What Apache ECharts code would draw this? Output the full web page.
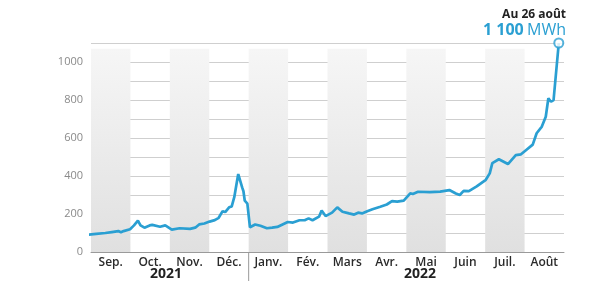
<!DOCTYPE html>
<html><head><meta charset="utf-8">
<script src="https://cdn.jsdelivr.net/npm/echarts@6/dist/echarts.min.js"></script>
<style>html,body{margin:0;padding:0;background:#fff}#c{width:600px;height:288px}</style>
</head><body><div id="c"></div>
<script>
var months = ['Sep.','Oct.','Nov.','Déc.','Janv.','Fév.','Mars','Avr.','Mai','Juin','Juil.','Août'];
var shaded = [1,0,1,0,1,0,1,0,1,0,1,0];
var years = ['2021','2022'];
var yTicks = [0,200,400,600,800,1000];
var dates = ['2021-08-29','2021-09-05','2021-09-12','2021-09-17','2021-09-22','2021-09-24','2021-09-26','2021-10-01','2021-10-04','2021-10-07','2021-10-09','2021-10-12','2021-10-16','2021-10-18','2021-10-24','2021-10-28','2021-11-02','2021-11-08','2021-11-16','2021-11-20','2021-11-23','2021-11-27','2021-12-01','2021-12-05','2021-12-08','2021-12-11','2021-12-13','2021-12-16','2021-12-18','2021-12-20','2021-12-21','2021-12-23','2021-12-24','2021-12-26','2021-12-27','2021-12-28','2021-12-30','2022-01-01','2022-01-02','2022-01-05','2022-01-09','2022-01-14','2022-01-18','2022-01-22','2022-01-30','2022-02-03','2022-02-08','2022-02-12','2022-02-15','2022-02-18','2022-02-23','2022-02-25','2022-02-28','2022-03-05','2022-03-09','2022-03-13','2022-03-18','2022-03-22','2022-03-25','2022-03-28','2022-04-01','2022-04-05','2022-04-11','2022-04-16','2022-04-20','2022-04-24','2022-04-29','2022-05-04','2022-05-06','2022-05-10','2022-05-19','2022-05-27','2022-06-03','2022-06-08','2022-06-11','2022-06-14','2022-06-18','2022-06-24','2022-07-01','2022-07-04','2022-07-06','2022-07-11','2022-07-18','2022-07-24','2022-07-28','2022-08-01','2022-08-06','2022-08-09','2022-08-13','2022-08-16','2022-08-18','2022-08-20','2022-08-22','2022-08-26'];
var values = [90,95,100,105,110,104,110,120,140,165,140,128,140,143,133,140,118,125,122,128,145,150,160,168,180,215,210,235,240,290,330,410,400,340,320,270,255,130,125,145,138,125,128,132,158,155,167,167,177,167,186,218,189,207,235,212,203,197,207,203,215,225,238,250,268,265,270,309,305,317,315,318,326,308,300,322,320,345,380,414,468,488,463,510,514,537,565,625,660,712,809,791,800,1100];
var lastLabelDate = 'Au 26 août';
var lastLabelValue = '1 100';
var unit = 'MWh';

var BLUE = '#2a9fd2';
var lineData = dates.map(function(d,i){return [d, values[i]];});
var bandData = shaded.map(function(s){return s ? 1070 : '-';});
var chart = echarts.init(document.getElementById('c'));
chart.setOption({
  animation:false,
  textStyle:{fontFamily:'Open Sans'},
  grid:{left:91,right:36,top:43,bottom:36},
  xAxis:[
    {type:'time', min:'2021-09-01', max:'2022-08-30', show:false},
    {type:'category', data:months, boundaryGap:true, position:'bottom',
     axisLine:{lineStyle:{color:'#9a9a9a',width:1}},
     axisTick:{length:4,lineStyle:{color:'#9a9a9a'}},
     axisLabel:{color:'#2a2a2a',fontSize:12,fontWeight:600,margin:5,fontFamily:'Open Sans'}}
  ],
  yAxis:{type:'value',min:0,max:1100,interval:100,
    axisLine:{show:false},axisTick:{show:false},
    splitLine:{lineStyle:{color:'#cfcfcf',width:1}},
    axisLabel:{color:'#8a8a8a',fontSize:11,margin:8,
      formatter:function(v){return yTicks.indexOf(v)>=0 ? String(v) : '';}}},
  series:[
    {type:'bar', xAxisIndex:1, data:bandData, barWidth:'100%', silent:true, z:1,
     itemStyle:{color:new echarts.graphic.LinearGradient(0,0,0,1,[{offset:0,color:'#f6f6f6'},{offset:1,color:'#e0e0e0'}])}},
    {type:'line', xAxisIndex:0, data:lineData, showSymbol:false, clip:false, z:3,
     lineStyle:{color:BLUE,width:2.7}, smooth:false},
    {type:'scatter', xAxisIndex:0, data:[lineData[lineData.length-1]], symbol:'circle', symbolSize:9, z:4,
     itemStyle:{color:'#fff',borderColor:BLUE,borderWidth:2}}
  ]
});
var janX = chart.convertToPixel({xAxisIndex:1}, months[4]);
var catW = (600-91-36)/months.length;
var sepX = janX - catW/2;
chart.setOption({graphic:[
  {type:'line', shape:{x1:sepX,y1:252,x2:sepX,y2:281}, style:{stroke:'#9a9a9a',lineWidth:1}, z:10},
  {type:'text', x:166, y:274, style:{text:years[0], fill:'#222', font:'bold 14px "Open Sans"', align:'center', verticalAlign:'middle'}},
  {type:'text', x:420, y:274, style:{text:years[1], fill:'#222', font:'bold 14px "Open Sans"', align:'center', verticalAlign:'middle'}},
  {type:'text', x:566, y:15, style:{text:lastLabelDate, fill:'#222', font:'bold 12px "Open Sans"', align:'right', verticalAlign:'middle'}},
  {type:'text', x:566, y:30, style:{
    text:'{b|'+lastLabelValue+'} {u|'+unit+'}', align:'right', verticalAlign:'middle',
    rich:{b:{fill:BLUE,font:'bold 16px "Open Sans"'},u:{fill:BLUE,font:'16px "Open Sans"'}}}}
]});
</script></body></html>
